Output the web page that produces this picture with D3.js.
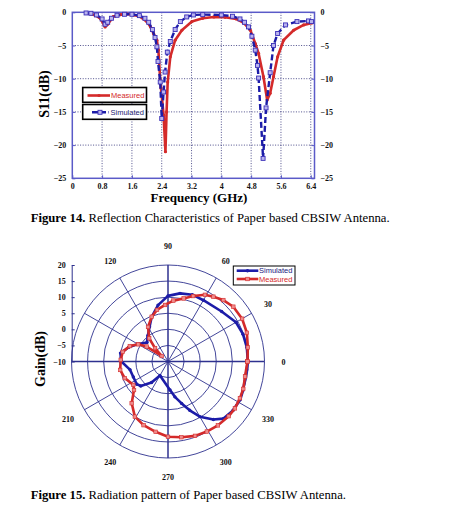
<!DOCTYPE html>
<html lang="en">
<head>
<meta charset="UTF-8">
<title>S11 and radiation pattern</title>
<style>
    body { margin: 0; background: #fff; }
    svg { display: block; }
</style>
</head>
<body>
<script src="https://cdn.jsdelivr.net/npm/d3@7"></script>
<script>
    // --- Figure 14 data: S11 vs frequency ---
    var measFreq = [0.39, 0.6, 0.75, 0.88, 0.95, 1.1, 1.3, 1.46, 1.65, 1.82, 2.0, 2.1, 2.18, 2.27, 2.31, 2.36, 2.38, 2.45, 2.5,
        2.53, 2.56, 2.63, 2.76, 2.94, 3.21, 3.5, 3.8, 4.1, 4.4, 4.6, 4.78, 4.91, 5.0, 5.13, 5.23, 5.31, 5.4, 5.51, 5.67, 5.94, 6.21, 6.43];
    var measS11 = [-0.15, -0.4, -0.9, -2.2, -1.8, -0.65, -0.35, -0.25, -0.4, -0.65, -1.4, -2.2, -3.2, -4.2, -5.7, -10.2, -11.4, -15.5, -21,
        -15, -10.5, -6.7, -4.2, -2.7, -1.4, -0.9, -0.7, -0.75, -1.0, -1.6, -2.7, -4.7, -6.2, -9.7, -13.2, -12.2, -9.7, -6.7, -4.2, -2.7, -1.9, -1.6];

    var simFreq = [0.37, 0.5, 0.65, 0.8, 0.88, 0.95, 1.05, 1.2, 1.4, 1.6, 1.8, 1.95, 2.05, 2.15, 2.22, 2.27, 2.3, 2.36, 2.4,
        2.45, 2.49, 2.55, 2.63, 2.76, 2.9, 3.07, 3.25, 3.5, 4.0, 4.3, 4.5, 4.62, 4.73, 4.82, 4.91, 4.97, 5.0, 5.12,
        5.2, 5.31, 5.4, 5.51, 5.72, 6.03, 6.34, 6.42];
    var simS11 = [-0.1, -0.15, -0.4, -1.0, -1.8, -1.5, -0.9, -0.45, -0.3, -0.3, -0.5, -0.9, -1.5, -2.6, -3.8, -5.2, -7.4, -10.5, -16,
        -12, -9, -6, -4.4, -2.6, -1.4, -0.7, -0.4, -0.35, -0.4, -0.6, -1.0, -1.5, -2.2, -3.6, -5.7, -8, -9.9, -22,
        -14.4, -9.1, -5.0, -3.2, -1.9, -1.4, -1.3, -1.4];

    var freqTicks = [0, 0.8, 1.6, 2.4, 3.2, 4, 4.8, 5.6, 6.4];
    var s11Ticks = [0, -5, -10, -15, -20, -25];

    // --- Figure 15 data: radiation pattern (angle deg, gain dB) ---
    var simAngle = [0, 10, 20, 30, 43, 60, 70, 80, 90, 100, 110, 118, 128, 138, 150, 160, 170, 180, 192, 204, 216, 222,
        232, 240, 274, 281, 288, 294, 300, 308, 314, 323, 332, 339, 354, 360];
    var simGain = [14.8, 14.9, 14.8, 14.4, 12.8, 12.0, 12.1, 11.5, 10.4, 7.8, 4.8, 2.2, 0.2, -1.2, 0.8, 3.0, 5.0, 4.5, 2.1, 1.8, 2.0, 1.4,
        -1.7, -5.0, -1.1, 1.2, 3.7, 6.6, 9.8, 12.9, 14.7, 15.3, 15.4, 15.0, 14.6, 14.8];

    var measAngle = [0, 10, 20, 30, 40, 48, 55, 61, 69, 76, 85, 93, 102, 110, 120, 129, 134, 139, 145, 150, 158, 168, 178,
        190, 201, 214, 220, 229, 239, 249, 260, 270, 280, 290, 299, 308, 318, 325, 333, 340, 349, 360];
    var measGain = [14.7, 15.2, 16.1, 16.6, 16.5, 15.7, 14.6, 13.7, 11.8, 10.2, 9.0, 7.6, 6.4, 4.8, 2.4, -0.7, -4.2, -7.4, -1.9, 0.7, 2.8, 4.4, 4.7,
        5.1, 4.4, 3.0, 3.8, 7.2, 10.0, 11.2, 12.2, 13.4, 13.9, 14.6, 14.9, 15.2, 15.4, 15.4, 15.1, 14.9, 14.4, 14.7];

    var gainTicks = [-10, -5, 0, 5, 10, 15, 20];
    var spokeAngles = [0, 30, 60, 90, 120, 150, 180, 210, 240, 270, 300, 330];
    var angleLabels = [0, 30, 60, 90, 120, 210, 240, 270, 300, 330];

    var red = "#d42a2a", blue = "#1c1ca8", navy = "#2e318f";
    var serif = "'Liberation Serif', 'Times New Roman', serif";
    var sans = "'Liberation Sans', Arial, sans-serif";

    var svg = d3.select("body").append("svg")
        .attr("width", 475)
        .attr("height", 509);

    //---------------- Figure 14 ----------------
    var x = d3.scaleLinear().domain([0, 6.5]).range([72.3, 314.5]);
    var y = d3.scaleLinear().domain([-25, 0]).range([178.3, 12.3]);

    var fig14 = svg.append("g");

    // dotted grid
    fig14.selectAll("line.vg").data(freqTicks.slice(1))
        .enter().append("line")
        .attr("x1", function(d) { return x(d); })
        .attr("x2", function(d) { return x(d); })
        .attr("y1", y(0)).attr("y2", y(-25))
        .attr("stroke", "#22226e").attr("stroke-width", 0.8)
        .attr("stroke-dasharray", "1,1.6");
    fig14.selectAll("line.hg").data(s11Ticks.slice(1, -1))
        .enter().append("line")
        .attr("x1", x(0)).attr("x2", x(6.5))
        .attr("y1", function(d) { return y(d); })
        .attr("y2", function(d) { return y(d); })
        .attr("stroke", "#22226e").attr("stroke-width", 0.8)
        .attr("stroke-dasharray", "1,1.6");

    // axes
    var axL = d3.axisLeft(y).tickValues(s11Ticks).tickSizeInner(-3).tickSizeOuter(0).tickPadding(6);
    var axR = d3.axisRight(y).tickValues(s11Ticks).tickSizeInner(-3).tickSizeOuter(0).tickPadding(6);
    var axB = d3.axisBottom(x).tickValues(freqTicks).tickFormat(d3.format("")).tickSizeInner(-3).tickSizeOuter(0).tickPadding(5);

    function styleAxis(g) {
        g.select(".domain").remove();
        g.selectAll(".tick line").attr("stroke", "#5a5ac8");
        g.selectAll("text").attr("font-family", serif).attr("font-weight", "bold")
            .attr("font-size", "8px").attr("fill", "#111");
    }
    fig14.append("g").attr("transform", "translate(" + x(0) + ",0)").call(axL).call(styleAxis);
    fig14.append("g").attr("transform", "translate(" + x(6.5) + ",0)").call(axR).call(styleAxis);
    fig14.append("g").attr("transform", "translate(0," + y(-25) + ")").call(axB).call(styleAxis);

    fig14.append("rect")
        .attr("x", x(0)).attr("y", y(0))
        .attr("width", x(6.5) - x(0)).attr("height", y(-25) - y(0))
        .attr("fill", "none").attr("stroke", "#5a5ac8").attr("stroke-width", 1.5);

    var line = d3.line()
        .x(function(d) { return x(d[0]); })
        .y(function(d) { return y(d[1]); });

    var measPts = d3.zip(measFreq, measS11);
    var simPts = d3.zip(simFreq, simS11);

    fig14.append("path").datum(measPts)
        .attr("d", line).attr("fill", "none")
        .attr("stroke", red).attr("stroke-width", 2.6).attr("stroke-linejoin", "round");
    fig14.selectAll("circle.m").data(measPts).enter().append("circle")
        .attr("cx", function(d) { return x(d[0]); })
        .attr("cy", function(d) { return y(d[1]); })
        .attr("r", 1.6).attr("fill", red);

    fig14.append("path").datum(simPts)
        .attr("d", line).attr("fill", "none")
        .attr("stroke", blue).attr("stroke-width", 2.4)
        .attr("stroke-dasharray", "6,3");
    fig14.selectAll("rect.s").data(simPts).enter().append("rect")
        .attr("x", function(d) { return x(d[0]) - 2; })
        .attr("y", function(d) { return y(d[1]) - 2; })
        .attr("width", 4).attr("height", 4)
        .attr("fill", "#b9b3ee").attr("stroke", "#3a2fb8").attr("stroke-width", 0.9);

    // legend boxes
    var lg = fig14.append("g");
    lg.append("rect").attr("x", 82.7).attr("y", 87.5).attr("width", 63.8).attr("height", 14.8)
        .attr("fill", "#fff").attr("stroke", "#000").attr("stroke-width", 1.6);
    lg.append("rect").attr("x", 82.7).attr("y", 104.5).attr("width", 63.8).attr("height", 14.8)
        .attr("fill", "#fff").attr("stroke", "#000").attr("stroke-width", 1.6);
    lg.append("line").attr("x1", 87.5).attr("x2", 110).attr("y1", 95.5).attr("y2", 95.5)
        .attr("stroke", red).attr("stroke-width", 2.6);
    lg.append("circle").attr("cx", 99).attr("cy", 95.5).attr("r", 1.6).attr("fill", red);
    lg.append("text").attr("x", 111).attr("y", 98).text("Measured")
        .attr("font-family", sans).attr("font-size", "7.5px").attr("fill", red);
    lg.append("line").attr("x1", 92).attr("x2", 108.5).attr("y1", 112.3).attr("y2", 112.3)
        .attr("stroke", blue).attr("stroke-width", 2.4).attr("stroke-dasharray", "6,2");
    lg.append("rect").attr("x", 98).attr("y", 110.3).attr("width", 4).attr("height", 4)
        .attr("fill", "#b9b3ee").attr("stroke", "#3a2fb8").attr("stroke-width", 0.9);
    lg.append("text").attr("x", 110.5).attr("y", 115).text("Simulated")
        .attr("font-family", sans).attr("font-size", "7.5px").attr("fill", "#1a1a70");

    // titles
    fig14.append("text")
        .attr("transform", "translate(49,94) rotate(-90)")
        .attr("text-anchor", "middle")
        .attr("font-family", serif).attr("font-weight", "bold").attr("font-size", "14px")
        .text("S11(dB)");
    fig14.append("text")
        .attr("x", 199).attr("y", 202)
        .attr("text-anchor", "middle")
        .attr("font-family", serif).attr("font-weight", "bold").attr("font-size", "13px")
        .text("Frequency (GHz)");

    var cap14 = svg.append("text").attr("x", 30.7).attr("y", 222)
        .attr("font-family", serif).attr("font-size", "12.7px");
    cap14.append("tspan").attr("font-weight", "bold").text("Figure 14.");
    cap14.append("tspan").text(" Reflection Characteristics of Paper based CBSIW Antenna.");

    //---------------- Figure 15 ----------------
    var cx = 168, cy = 361.5;
    var r = d3.scaleLinear().domain([-10, 20]).range([0, 96.5]);
    var pol = svg.append("g").attr("transform", "translate(" + cx + "," + cy + ")");

    pol.selectAll("circle.ring").data(gainTicks.slice(1))
        .enter().append("circle")
        .attr("r", function(d) { return r(d); })
        .attr("fill", "none").attr("stroke", navy).attr("stroke-width", 0.9);

    pol.selectAll("line.spoke").data(spokeAngles)
        .enter().append("line")
        .attr("x1", 0).attr("y1", 0)
        .attr("x2", function(d) { return r(20) * Math.cos(d * Math.PI / 180); })
        .attr("y2", function(d) { return -r(20) * Math.sin(d * Math.PI / 180); })
        .attr("stroke", navy)
        .attr("stroke-width", function(d) { return d % 90 === 0 ? 1.5 : 0.9; });

    pol.selectAll("text.ang").data(angleLabels)
        .enter().append("text")
        .attr("x", function(d) { return 115.5 * Math.cos(d * Math.PI / 180); })
        .attr("y", function(d) { return -115.5 * Math.sin(d * Math.PI / 180) + 3; })
        .attr("text-anchor", "middle")
        .attr("font-family", serif).attr("font-weight", "bold").attr("font-size", "8px")
        .attr("fill", "#111")
        .text(function(d) { return d; });

    var radial = d3.lineRadial()
        .angle(function(d) { return (90 - d[0]) * Math.PI / 180; })
        .radius(function(d) { return r(d[1]); });

    var simPol = d3.zip(simAngle, simGain);
    var measPol = d3.zip(measAngle, measGain);

    function px(d) { return r(d[1]) * Math.cos(d[0] * Math.PI / 180); }
    function py(d) { return -r(d[1]) * Math.sin(d[0] * Math.PI / 180); }

    pol.append("path").datum(simPol)
        .attr("d", radial).attr("fill", "none")
        .attr("stroke", blue).attr("stroke-width", 2.6).attr("stroke-linejoin", "round");
    pol.selectAll("circle.sp").data(simPol).enter().append("circle")
        .attr("cx", px).attr("cy", py).attr("r", 1.7).attr("fill", blue);

    pol.append("path").datum(measPol)
        .attr("d", radial).attr("fill", "none")
        .attr("stroke", red).attr("stroke-width", 2.6).attr("stroke-linejoin", "round");
    pol.selectAll("rect.mp").data(measPol).enter().append("rect")
        .attr("x", function(d) { return px(d) - 1.8; })
        .attr("y", function(d) { return py(d) - 1.8; })
        .attr("width", 3.6).attr("height", 3.6)
        .attr("fill", "#ef8a8a").attr("stroke", red).attr("stroke-width", 0.6);

    // gain axis on the left
    var gy = d3.scaleLinear().domain([-10, 20]).range([cy, cy - 96.5]);
    svg.append("g").attr("transform", "translate(71.7,0)")
        .call(d3.axisLeft(gy).tickValues(gainTicks).tickSizeInner(-3).tickSizeOuter(0).tickPadding(6))
        .call(function(g) {
            g.select(".domain").attr("stroke", navy);
            g.selectAll(".tick line").attr("stroke", navy);
            g.selectAll("text").attr("font-family", serif).attr("font-weight", "bold")
                .attr("font-size", "8px").attr("fill", "#111");
        });

    svg.append("text")
        .attr("transform", "translate(45,359) rotate(-90)")
        .attr("text-anchor", "middle")
        .attr("font-family", serif).attr("font-weight", "bold").attr("font-size", "14px")
        .text("Gain(dB)");

    // legend
    var pl = svg.append("g");
    pl.append("rect").attr("x", 233.3).attr("y", 266).attr("width", 61.7).attr("height", 19)
        .attr("fill", "#fff").attr("stroke", "#000").attr("stroke-width", 1);
    pl.append("line").attr("x1", 236.7).attr("x2", 258.3).attr("y1", 270.7).attr("y2", 270.7)
        .attr("stroke", blue).attr("stroke-width", 2.6);
    pl.append("circle").attr("cx", 247.5).attr("cy", 270.7).attr("r", 1.7).attr("fill", blue);
    pl.append("text").attr("x", 259).attr("y", 273.4).text("Simulated")
        .attr("font-family", sans).attr("font-size", "7.5px").attr("fill", "#1a1a80");
    pl.append("line").attr("x1", 236.7).attr("x2", 258.3).attr("y1", 279).attr("y2", 279)
        .attr("stroke", red).attr("stroke-width", 2.6);
    pl.append("rect").attr("x", 245.7).attr("y", 277.2).attr("width", 3.6).attr("height", 3.6)
        .attr("fill", "#ef8a8a").attr("stroke", red).attr("stroke-width", 0.6);
    pl.append("text").attr("x", 259).attr("y", 281.7).text("Measured")
        .attr("font-family", sans).attr("font-size", "7.5px").attr("fill", red);

    var cap15 = svg.append("text").attr("x", 30.7).attr("y", 499)
        .attr("font-family", serif).attr("font-size", "12.7px");
    cap15.append("tspan").attr("font-weight", "bold").text("Figure 15.");
    cap15.append("tspan").text(" Radiation pattern of Paper based CBSIW Antenna.");
</script>
</body>
</html>
